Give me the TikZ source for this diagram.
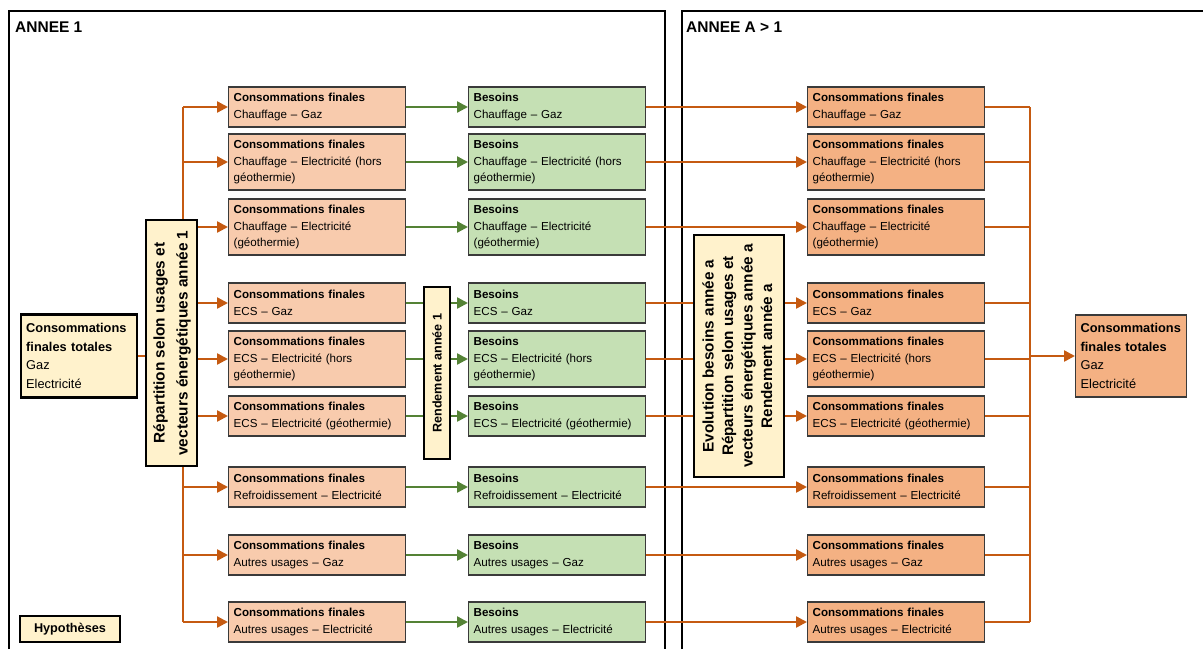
\documentclass[tikz,border=0pt]{standalone}
\usepackage{fontspec}
\setmainfont{Liberation Sans}
\usetikzlibrary{arrows.meta}
\definecolor{cfpeach}{HTML}{F8CBAD}
\definecolor{cforange}{HTML}{F4B183}
\definecolor{bgreen}{HTML}{C5E0B4}
\definecolor{hypyellow}{HTML}{FFF2CC}
\definecolor{orangeline}{HTML}{C55A11}
\definecolor{greenline}{HTML}{548235}
\definecolor{boxborder}{HTML}{3A3A3A}

\newcommand{\cftitle}[1]{\textbf{Consommations finales}\\#1}
\newcommand{\btitle}[1]{\textbf{Besoins}\\#1}

\begin{document}
\begin{tikzpicture}[x=1pt,y=-1pt,
    box/.style={draw=boxborder, line width=1.3pt, anchor=west, text width=167pt,
      inner xsep=5pt, inner ysep=2pt, align=left, minimum height=40pt,
      font=\fontsize{11.6}{16.5}\selectfont},
    cfone/.style={box, fill=cfpeach},
    besoin/.style={box, fill=bgreen},
    cfa/.style={box, fill=cforange},
    tall/.style={minimum height=56pt},
    hyp/.style={draw=black, line width=2.4pt, fill=hypyellow, inner sep=0pt},
    oline/.style={orangeline, line width=2.4pt},
    gline/.style={greenline, line width=2.4pt},
    oarrow/.style={oline, -{Triangle[length=11pt,width=11pt]}},
    garrow/.style={gline, -{Triangle[length=11pt,width=11pt]}},
    frame/.style={black, line width=1.5pt}]
  \useasboundingbox (0,0) rectangle (1203,649);
  % frames
  \draw[frame] (9,649) -- (9,11) -- (665,11) -- (665,649);
  \draw[frame] (682,649) -- (682,11) -- (1203,11);
  \node[anchor=west, inner sep=0pt, font=\bfseries\fontsize{15.5}{18}\selectfont] (annee1) at (15,27) {ANNEE 1};
  \node[anchor=west, inner sep=0pt, font=\bfseries\fontsize{15.5}{18}\selectfont] (anneea) at (686,27) {ANNEE A > 1};
  % totals and hypotheses
  \node[hyp, anchor=west, text width=106pt, inner xsep=5pt, minimum height=83pt, align=left,
    font=\fontsize{12.8}{18.8}\selectfont] (tot1) at (20,356)
    {\textbf{Consommations}\\\textbf{finales totales}\\Gaz\\Electricité};
  \node[draw=boxborder, line width=1.3pt, fill=cforange, anchor=west, text width=101pt, inner xsep=5pt,
    minimum height=82pt, align=left, font=\fontsize{12.8}{18.8}\selectfont] (tot2) at (1075,356)
    {\textbf{Consommations}\\\textbf{finales totales}\\Gaz\\Electricité};
  \node[hyp, minimum width=100pt, minimum height=26pt, font=\bfseries\fontsize{12.7}{15}\selectfont] (hyp) at (70,629) {Hypothèses};
  \node[hyp, minimum width=51pt, minimum height=246pt, font=\bfseries\fontsize{15.4}{23}\selectfont] (rep) at (171.5,343)
    {\rotatebox{90}{\begin{tabular}{@{}c@{}}Répartition selon usages et\\vecteurs énergétiques année 1\end{tabular}}};
  \node[hyp, minimum width=26pt, minimum height=172pt, font=\bfseries\fontsize{12.6}{15}\selectfont] (rend) at (437,373)
    {\rotatebox{90}{Rendement année 1}};
  \node[hyp, minimum width=90pt, minimum height=242pt, font=\bfseries\fontsize{15.3}{19.5}\selectfont] (evo) at (739,356)
    {\rotatebox{90}{\begin{tabular}{@{}c@{}}Evolution besoins année a\\Répartition selon usages et\\vecteurs énergétiques année a\\Rendement année a\end{tabular}}};
  % consommations finales annee 1
  \node[cfone] (cf1) at (228,107) {\cftitle{Chauffage – Gaz}};
  \node[cfone, tall] (cf2) at (228,162) {\cftitle{Chauffage – Electricité (hors\\géothermie)}};
  \node[cfone, tall] (cf3) at (228,227) {\cftitle{Chauffage – Electricité\\(géothermie)}};
  \node[cfone] (cf4) at (228,303) {\cftitle{ECS – Gaz}};
  \node[cfone, tall] (cf5) at (228,359) {\cftitle{ECS – Electricité (hors\\géothermie)}};
  \node[cfone] (cf6) at (228,416) {\cftitle{ECS – Electricité (géothermie)}};
  \node[cfone] (cf7) at (228,487) {\cftitle{Refroidissement – Electricité}};
  \node[cfone] (cf8) at (228,555) {\cftitle{Autres usages – Gaz}};
  \node[cfone] (cf9) at (228,622) {\cftitle{Autres usages – Electricité}};
  % besoins
  \node[besoin] (b1) at (468,107) {\btitle{Chauffage – Gaz}};
  \node[besoin, tall] (b2) at (468,162) {\btitle{Chauffage – Electricité (hors\\géothermie)}};
  \node[besoin, tall] (b3) at (468,227) {\btitle{Chauffage – Electricité\\(géothermie)}};
  \node[besoin] (b4) at (468,303) {\btitle{ECS – Gaz}};
  \node[besoin, tall] (b5) at (468,359) {\btitle{ECS – Electricité (hors\\géothermie)}};
  \node[besoin] (b6) at (468,416) {\btitle{ECS – Electricité (géothermie)}};
  \node[besoin] (b7) at (468,487) {\btitle{Refroidissement – Electricité}};
  \node[besoin] (b8) at (468,555) {\btitle{Autres usages – Gaz}};
  \node[besoin] (b9) at (468,622) {\btitle{Autres usages – Electricité}};
  % consommations finales annee a
  \node[cfa] (fa1) at (807,107) {\cftitle{Chauffage – Gaz}};
  \node[cfa, tall] (fa2) at (807,162) {\cftitle{Chauffage – Electricité (hors\\géothermie)}};
  \node[cfa, tall] (fa3) at (807,227) {\cftitle{Chauffage – Electricité\\(géothermie)}};
  \node[cfa] (fa4) at (807,303) {\cftitle{ECS – Gaz}};
  \node[cfa, tall] (fa5) at (807,359) {\cftitle{ECS – Electricité (hors\\géothermie)}};
  \node[cfa] (fa6) at (807,416) {\cftitle{ECS – Electricité (géothermie)}};
  \node[cfa] (fa7) at (807,487) {\cftitle{Refroidissement – Electricité}};
  \node[cfa] (fa8) at (807,555) {\cftitle{Autres usages – Gaz}};
  \node[cfa] (fa9) at (807,622) {\cftitle{Autres usages – Electricité}};
  % split coordinates
  \coordinate (lsplit) at (183,0);
  \coordinate (rsplit) at (1030,0);
  % repartition annee 1
  \draw[oline] (tot1.east) -- (rep.west |- tot1.east);
  \draw[oline] (cf1.west -| lsplit) -- (lsplit |- rep.north);
  \draw[oline] (lsplit |- rep.south) -- (cf9.west -| lsplit);
  \foreach \i in {1,2,7,8,9}
    \draw[oarrow] (cf\i.west -| lsplit) -- (cf\i.west);
  \foreach \i in {3,4,5,6}
    \draw[oarrow] (rep.east |- cf\i.west) -- (cf\i.west);
  % rendement and evolution
  \foreach \i in {1,2,3,7,8,9} {
    \draw[garrow] (cf\i.east) -- (b\i.west);
    \draw[oarrow] (b\i.east) -- (fa\i.west);
  }
  \foreach \i in {4,5,6} {
    \draw[gline] (cf\i.east) -- (rend.west |- cf\i.east);
    \draw[garrow] (rend.east |- b\i.west) -- (b\i.west);
    \draw[oline] (b\i.east) -- (evo.west |- b\i.east);
    \draw[oarrow] (evo.east |- fa\i.west) -- (fa\i.west);
  }
  % sum annee a
  \draw[oline] (rsplit |- fa1.east) -- (rsplit |- fa9.east);
  \foreach \i in {1,...,9}
    \draw[oline] (fa\i.east) -- (rsplit |- fa\i.east);
  \draw[oarrow] (rsplit |- tot2.west) -- (tot2.west);
\end{tikzpicture}
\end{document}
